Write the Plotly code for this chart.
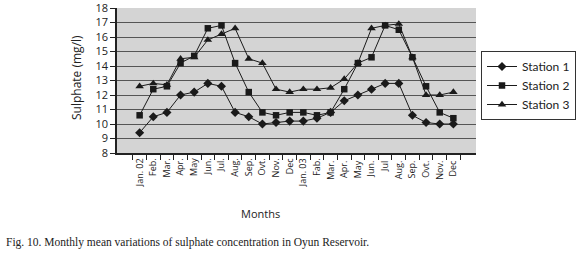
import plotly.graph_objects as go

months = ["Jan. 02", "Feb.", "Mar.", "Apr.", "May", "Jun.", "Jul.", "Aug.", "Sep.", "Ovt.", "Nov.", "Dec",
          "Jan. 03", "Fab.", "Mar. ", "Apr. ", "May ", "Jun. ", "Jul ", "Aug. ", "Sep. ", "Ovt. ", "Nov. ", "Dec "]

station1 = [9.4, 10.5, 10.8, 12.0, 12.2, 12.8, 12.6, 10.8, 10.5, 10.0, 10.1, 10.2,
            10.2, 10.4, 10.8, 11.6, 12.0, 12.4, 12.8, 12.8, 10.6, 10.1, 10.0, 10.0]
station2 = [10.6, 12.4, 12.6, 14.2, 14.7, 16.6, 16.8, 14.2, 12.2, 10.8, 10.6, 10.8,
            10.8, 10.6, 10.8, 12.4, 14.2, 14.6, 16.8, 16.5, 14.6, 12.6, 10.8, 10.4]
station3 = [12.6, 12.8, 12.7, 14.5, 14.6, 15.8, 16.2, 16.6, 14.5, 14.2, 12.4, 12.2,
            12.4, 12.4, 12.5, 13.1, 14.2, 16.6, 16.8, 16.9, 14.6, 12.0, 12.0, 12.2]

series = [("Station 1", station1, "diamond", 7),
          ("Station 2", station2, "square", 6.5),
          ("Station 3", station3, "triangle-up", 7.5)]

L, R, T, B = 117, 476, 8, 153
W, H = R - L, B - T

fig = go.Figure()
for name, vals, sym, sz in series:
    fig.add_trace(go.Scatter(x=months, y=vals, name=name, mode="lines+markers",
                             line=dict(color="#1a1a1a", width=1),
                             marker=dict(symbol=sym, size=sz, color="#1a1a1a")))

fig.update_layout(
    width=580, height=254,
    margin=dict(l=L, r=580 - R, t=T, b=254 - B, autoexpand=False),
    paper_bgcolor="white", plot_bgcolor="#d4d4d4",
    showlegend=True,
    legend=dict(x=(481 - L) / W, y=(B - 51) / H, xanchor="left", yanchor="top",
                bordercolor="#333", borderwidth=1, bgcolor="white",
                font=dict(family="Lato", size=12, color="#222")),
    font=dict(family="Open Sans", color="#222"),
)
fig.update_xaxes(type="category", tickangle=-90, tickfont=dict(size=9, family="Open Sans"),
                 ticks="outside", ticklen=5, tickson="boundaries", tickcolor="#222",
                 showgrid=False, showline=True, linecolor="#222", linewidth=1.5)
fig.update_yaxes(range=[8, 18], dtick=1, tickfont=dict(size=11, family="Open Sans"),
                 ticks="outside", ticklen=5, tickcolor="#222", ticklabeloverflow="allow",
                 showgrid=True, gridcolor="#555", gridwidth=1,
                 showline=True, linecolor="#222", linewidth=1.5, zeroline=False)

fig.add_annotation(text="Sulphate (mg/l)", textangle=-90,
                   x=(76 - L) / W, y=(B - 78) / H, xref="paper", yref="paper",
                   xanchor="center", yanchor="middle",
                   showarrow=False, font=dict(size=12, family="Open Sans", color="#222"))
fig.add_annotation(text="Months", x=(260 - L) / W, y=(B - 213) / H, xref="paper", yref="paper",
                   xanchor="center", yanchor="middle",
                   showarrow=False, font=dict(size=11, family="Open Sans", color="#222"))
fig.add_annotation(text="Fig. 10. Monthly mean variations of sulphate concentration in Oyun Reservoir.",
                   x=(4 - L) / W, y=(B - 242) / H, xref="paper", yref="paper",
                   xanchor="left", yanchor="middle", showarrow=False,
                   font=dict(size=11.5, family="Liberation Serif", color="#222"))

fig.write_html("out.html", config={"displayModeBar": False},
               post_script="document.body.style.margin='0';document.body.style.overflow='hidden';")
